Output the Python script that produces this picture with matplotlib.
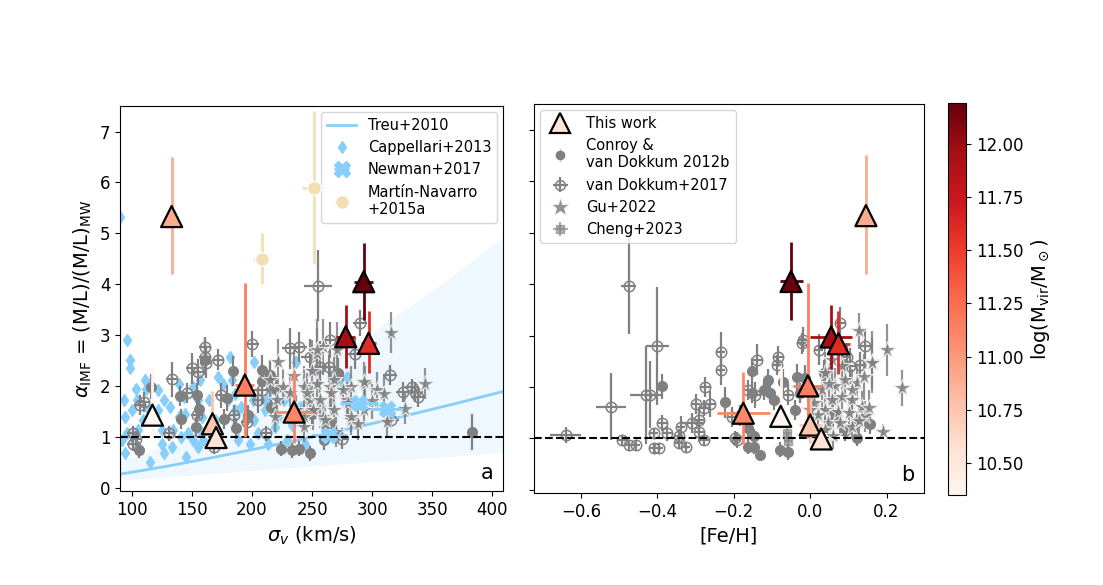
import numpy as np
import matplotlib
matplotlib.use('Agg')
import matplotlib.pyplot as plt
from matplotlib import cm, colors
from matplotlib.lines import Line2D

# ---------------- this work ----------------
tw_sigma = [133, 117, 167, 170, 194, 235, 278, 293, 297]
tw_sigma_err = [5, 5, 5, 5, 8, 15, 8, 8, 6]
tw_feh = [0.146, -0.077, 0.000, 0.029, -0.006, -0.175, 0.055, -0.050, 0.074]
tw_feh_err = [0.01, 0.03, 0.03, 0.03, 0.038, 0.07, 0.055, 0.03, 0.03]
tw_alpha = [5.33, 1.43, 1.26, 0.99, 2.02, 1.49, 2.97, 4.05, 2.84]
tw_alpha_lo = [1.13, 0.45, 0.35, 0.2, 1.02, 0.6, 0.62, 0.75, 0.59]
tw_alpha_hi = [1.17, 0.95, 0.65, 0.25, 2.0, 0.8, 0.63, 0.77, 0.63]
tw_logm = [10.9, 10.35, 10.75, 10.55, 11.15, 11.1, 11.95, 12.19, 11.6]

# ---------------- Treu+2010 relation ----------------
treu_sigma = [90, 130, 170, 210, 250, 290, 330, 370, 410]
treu_alpha = [0.27, 0.43, 0.61, 0.80, 1.00, 1.21, 1.43, 1.66, 1.90]
treu_hi = [0.52, 0.85, 1.27, 1.76, 2.30, 2.90, 3.55, 4.22, 4.95]
treu_lo = [0.15, 0.22, 0.29, 0.36, 0.43, 0.50, 0.56, 0.63, 0.70]

# ---------------- Cappellari+2013 ----------------
capp_sigma = [90, 96, 98, 98, 93, 94, 103, 104, 96, 105, 111, 112, 114, 109, 105,
              115, 125, 133, 134, 125, 127, 122, 139, 132, 143, 144, 147, 151, 145,
              155, 157, 158, 151, 159, 172, 176, 182, 183, 180, 186, 191, 188, 201,
              202, 205, 211, 215, 213, 219, 222, 227, 229, 237, 240, 237, 273, 279,
              92, 122, 139, 164, 169, 172, 158, 198, 202, 186, 155, 127, 141, 94,
              100, 244, 233, 212]
capp_alpha = [5.33, 2.90, 2.51, 2.35, 1.72, 1.40, 1.95, 1.72, 1.07, 1.13, 2.12, 1.95,
              1.53, 1.33, 0.81, 0.51, 0.87, 0.81, 1.13, 1.13, 1.72, 1.92, 2.05, 1.59,
              1.79, 1.46, 1.07, 0.94, 0.61, 1.72, 2.12, 1.40, 1.99, 0.94, 2.18, 2.05,
              2.58, 2.12, 1.72, 1.53, 1.59, 0.94, 1.72, 2.48, 1.07, 1.53, 1.92, 0.87,
              1.20, 1.40, 1.72, 0.94, 2.48, 1.59, 2.48, 2.00, 2.18, 0.94, 1.53, 1.40,
              1.72, 1.33, 1.00, 1.07, 0.87, 1.33, 1.85, 0.81, 0.68, 1.00, 0.68, 1.53,
              0.87, 1.23, 1.72]

# ---------------- Newman+2017, Martin-Navarro+2015a ----------------
newman_sigma = [264, 289, 312]
newman_sigma_err = [15, 16, 14]
newman_alpha = [1.04, 1.66, 1.56]
mn_sigma = [208, 252]
mn_sigma_err = [7, 10]
mn_alpha = [4.5, 5.9]
mn_alpha_err = [0.5, 1.5]

# ---------------- Conroy & van Dokkum 2012b ----------------
cvd_sigma = [106, 116, 140, 154, 156, 161, 184, 177, 187, 197, 208, 208, 216, 220,
             215, 224, 233, 239, 248, 272, 383, 179, 153, 141, 260, 265, 250]
cvd_alpha_a = [0.74, 1.99, 1.80, 1.82, 1.56, 2.52, 2.30, 1.36, 1.17, 1.43, 2.31, 2.10,
               1.59, 1.95, 2.22, 0.77, 0.74, 0.77, 0.68, 2.25, 1.10, 1.77, 1.20, 1.35,
               0.95, 1.25, 1.45]
cvd_err_a = [0.15, 0.25, 0.2, 0.25, 0.2, 0.3, 0.3, 0.2, 0.2, 0.2, 0.3, 0.25, 0.2, 0.25,
             0.25, 0.15, 0.15, 0.15, 0.15, 0.3, 0.35, 0.25, 0.2, 0.2, 0.2, 0.2, 0.2]
cvd_feh = [-0.388, -0.224, -0.162, -0.162, -0.148, -0.148, -0.131, -0.153, -0.122,
           -0.111, -0.105, -0.079, -0.058, -0.070, -0.035, -0.026, -0.013, 0.004,
           0.037, 0.122, 0.157, 0.122, -0.153, -0.183, -0.095, 0.06, 0.09, -0.04]
cvd_alpha_b = [2.01, 1.70, 1.20, 0.84, 1.04, 0.84, 0.68, 2.32, 1.94, 2.14, 1.88, 0.78,
               0.74, 2.10, 2.20, 1.88, 2.17, 1.88, 2.28, 1.31, 1.29, 1.00, 1.88, 1.45,
               1.75, 1.45, 1.15, 1.55]
cvd_err_b = [0.25, 0.3, 0.2, 0.15, 0.15, 0.15, 0.1, 0.25, 0.2, 0.2, 0.2, 0.15, 0.15,
             0.25, 0.25, 0.2, 0.25, 0.2, 0.25, 0.2, 0.2, 0.15, 0.2, 0.2, 0.2, 0.2,
             0.2, 0.2]

# ---------------- van Dokkum+2017 ----------------
vd_sigma = [101, 101, 103, 107, 110, 131, 133, 146, 150, 155, 154, 161, 162, 161, 172,
            168, 174, 185, 200, 196, 208, 205, 212, 232, 239, 248, 255, 257, 265, 264,
            275, 286, 290, 315, 316, 326, 333, 336, 338]
vd_sigma_err = [5, 5, 5, 5, 5, 5, 5, 5, 5, 5, 5, 5, 5, 5, 5, 5, 5, 5, 6, 5, 6, 5, 5, 7,
                7, 7, 12, 6, 7, 6, 6, 6, 6, 6, 6, 6, 6, 6, 6]
vd_alpha_a = [1.07, 0.87, 0.97, 1.63, 1.69, 1.07, 2.13, 1.86, 2.35, 2.28, 1.43, 2.77,
              2.45, 2.58, 2.52, 0.81, 1.82, 1.43, 2.83, 1.30, 1.92, 1.72, 1.07, 2.74,
              2.77, 2.58, 3.97, 2.38, 2.90, 2.38, 0.97, 2.64, 3.24, 2.22, 1.33, 1.89,
              1.99, 1.89, 1.79]
vd_err_a = [0.15, 0.15, 0.15, 0.2, 0.2, 0.15, 0.35, 0.2, 0.3, 0.25, 0.2, 0.2, 0.3,
            0.35, 0.2, 0.15, 0.25, 0.2, 0.25, 0.3, 0.3, 0.25, 0.15, 0.4, 0.3, 0.35,
            0.7, 0.5, 0.35, 0.3, 0.2, 0.3, 0.25, 0.2, 0.15, 0.2, 0.15, 0.2, 0.2]
vd_feh = [-0.640, -0.521, -0.475, -0.492, -0.475, -0.457, -0.431, -0.418, -0.400,
          -0.409, -0.409, -0.396, -0.387, -0.374, -0.344, -0.339, -0.344, -0.326,
          -0.309, -0.300, -0.291, -0.291, -0.278, -0.278, -0.274, -0.262, -0.234,
          -0.234, -0.204, -0.192, -0.138, -0.083, -0.087, -0.020, -0.022, 0.022,
          0.079, 0.144, 0.131, 0.096, 0.105, -0.162, -0.144, -0.057, -0.196]
vd_feh_err = [0.04, 0.04, 0.02, 0.012, 0.012, 0.012, 0.04, 0.012, 0.03, 0.012, 0.012,
              0.012, 0.012, 0.012, 0.012, 0.012, 0.012, 0.012, 0.03, 0.012, 0.012,
              0.012, 0.012, 0.012, 0.012, 0.012, 0.012, 0.012, 0.012, 0.012, 0.012,
              0.012, 0.012, 0.012, 0.012, 0.012, 0.012, 0.012, 0.012, 0.012, 0.012,
              0.012, 0.012, 0.012, 0.012]
vd_alpha_b = [1.07, 1.62, 3.97, 0.96, 0.87, 0.87, 1.85, 1.85, 2.80, 1.10, 0.81, 0.81,
              1.30, 1.10, 1.04, 1.23, 0.91, 0.84, 1.30, 1.67, 1.36, 1.13, 0.97, 1.59,
              2.00, 1.67, 2.67, 2.33, 1.42, 0.97, 2.53, 2.59, 2.43, 2.92, 2.85, 2.72,
              3.25, 2.79, 2.43, 2.58, 2.40, 1.94, 1.85, 1.85, 1.00]
vd_err_b = [0.15, 0.65, 0.95, 0.1, 0.1, 0.1, 0.95, 0.65, 1.15, 0.1, 0.1, 0.1, 0.15,
            0.15, 0.15, 0.2, 0.1, 0.1, 0.2, 0.2, 0.25, 0.2, 0.1, 0.15, 0.2, 0.25, 0.4,
            0.3, 0.2, 0.15, 0.3, 0.2, 0.2, 0.25, 0.2, 0.3, 0.3, 0.3, 0.25, 0.25, 0.35,
            0.2, 0.25, 0.2, 0.15]

# ---------------- Gu+2022 ----------------
gu_sigma = [222, 215, 226, 221, 219, 232, 237, 243, 248, 243, 254, 259, 265, 259, 279,
            282, 316, 344, 312, 294, 304, 282, 276, 268, 266, 280, 282, 293, 257, 254,
            251, 261, 268, 246, 243, 254, 271, 327, 293, 300, 310, 250, 235, 270, 288]
gu_alpha_a = [2.48, 2.12, 1.99, 1.73, 1.40, 1.86, 1.53, 1.99, 1.73, 1.20, 2.64, 2.77,
              1.99, 1.40, 1.73, 1.33, 3.05, 2.05, 1.30, 2.05, 1.92, 1.99, 1.92, 2.12,
              1.86, 1.66, 1.40, 1.53, 1.72, 2.05, 1.53, 1.33, 1.53, 1.86, 1.40, 2.71,
              2.71, 1.56, 2.08, 1.70, 1.85, 2.30, 2.20, 1.10, 1.25]
gu_err_a = [0.45, 0.4, 0.35, 0.3, 0.3, 0.35, 0.3, 0.4, 0.35, 0.3, 0.5, 0.55, 0.4, 0.3,
            0.35, 0.3, 0.4, 0.3, 0.3, 0.35, 0.35, 0.4, 0.35, 0.5, 0.4, 0.35, 0.3, 0.3,
            0.4, 0.6, 0.4, 0.3, 0.35, 0.4, 0.3, 0.6, 0.55, 0.3, 0.4, 0.35, 0.35, 0.6,
            0.5, 0.3, 0.3]
gu_feh = [0.127, 0.201, 0.240, 0.192, 0.162, 0.039, 0.066, 0.092, 0.122, 0.057, 0.083,
          0.109, 0.135, 0.039, 0.074, 0.101, 0.144, 0.048, 0.079, 0.109, 0.127, 0.153,
          0.031, 0.009, 0.083, 0.057, 0.039, 0.020, 0.161, 0.060, 0.000, 0.110, 0.140,
          0.050]
gu_alpha_b = [3.08, 2.72, 1.98, 1.13, 2.49, 2.27, 2.01, 2.14, 2.07, 1.75, 1.81, 1.75,
              1.62, 1.55, 1.52, 1.49, 1.43, 1.30, 1.30, 1.23, 1.33, 1.59, 1.94, 1.68,
              2.40, 2.53, 1.17, 1.45, 2.46, 1.05, 1.55, 1.95, 2.20, 2.05]
gu_err_b = [0.35, 0.5, 0.35, 0.15, 0.6, 0.4, 0.35, 0.4, 0.35, 0.3, 0.3, 0.3, 0.3, 0.3,
            0.3, 0.3, 0.3, 0.25, 0.25, 0.25, 0.3, 0.35, 0.4, 0.3, 0.4, 0.45, 0.25, 0.3,
            0.5, 0.25, 0.3, 0.4, 0.45, 0.4]

# ---------------- Cheng+2023 ----------------
cheng_sigma = [262, 270]
cheng_alpha_a = [1.20, 1.02]
cheng_feh = [-0.061, -0.058]
cheng_alpha_b = [1.10, 0.95]

cmap = cm.Reds
norm = colors.Normalize(vmin=min(tw_logm), vmax=max(tw_logm))
lsb = 'lightskyblue'

fig = plt.figure(figsize=(11.03, 5.85), dpi=100)
ax1 = fig.add_axes([0.1088, 0.1607, 0.3472, 0.658])
ax2 = fig.add_axes([0.4841, 0.1573, 0.3536, 0.665])
cax = fig.add_axes([0.8595, 0.1538, 0.0163, 0.670])

gkw = dict(color='gray', ecolor='gray', elinewidth=1.6, capsize=0)


def plot_this_work(ax, x, xerr):
    for i in range(len(x)):
        c = cmap(norm(tw_logm[i]))
        ax.errorbar(x[i], tw_alpha[i], xerr=xerr[i],
                    yerr=[[tw_alpha_lo[i]], [tw_alpha_hi[i]]],
                    fmt='none', ecolor=c, elinewidth=2, zorder=8)
    ax.scatter(x, tw_alpha, c=tw_logm, cmap=cmap, norm=norm, marker='^', s=230,
               edgecolors='k', linewidths=1.6, zorder=10)


# ---- panel a ----
ax1.fill_between(treu_sigma, treu_lo, treu_hi, color=lsb, alpha=0.14, lw=0, zorder=0)
ax1.plot(treu_sigma, treu_alpha, color=lsb, lw=2, label='Treu+2010', zorder=1)
ax1.plot(capp_sigma, capp_alpha, 'd', color=lsb, ms=6, ls='none',
         label='Cappellari+2013', zorder=1)
ax1.errorbar(cvd_sigma, cvd_alpha_a, yerr=cvd_err_a, fmt='o', ms=7, zorder=3, **gkw)
ax1.errorbar(vd_sigma, vd_alpha_a, xerr=vd_sigma_err, yerr=vd_err_a, fmt='o', ms=7.5,
             mfc='none', mew=1.1, zorder=3, **gkw)
ax1.errorbar(gu_sigma, gu_alpha_a, yerr=gu_err_a, fmt='*', ms=13, mec='whitesmoke',
             mew=0.8, alpha=0.85, zorder=4, **gkw)
ax1.errorbar(cheng_sigma, cheng_alpha_a, yerr=0.15, xerr=6, fmt='s', ms=6, alpha=0.6,
             zorder=3, **gkw)
ax1.errorbar(newman_sigma, newman_alpha, xerr=newman_sigma_err, fmt='X', ms=12,
             color=lsb, ecolor=lsb, elinewidth=2, label='Newman+2017', zorder=6)
ax1.errorbar(mn_sigma, mn_alpha, yerr=mn_alpha_err, fmt='none', ecolor='wheat',
             elinewidth=2, zorder=5)
ax1.errorbar(mn_sigma, mn_alpha, xerr=mn_sigma_err, fmt='o', ms=10, color='wheat',
             ecolor='wheat', elinewidth=2, mec='white', mew=1,
             label='Martín-Navarro\n+2015a', zorder=5)
ax1.axhline(1, color='k', ls='--', lw=1.5, zorder=7)
plot_this_work(ax1, tw_sigma, tw_sigma_err)

ax1.set_xlim(90, 409)
ax1.set_ylim(-0.06, 7.5)
ax1.set_xticks([100, 150, 200, 250, 300, 350, 400])
ax1.set_yticks(range(8))
ax1.set_xlabel(r'$\sigma_v$ (km/s)', fontsize=14)
ax1.set_ylabel(r'$\alpha_{\rm IMF}$ = (M/L)/(M/L)$_{\rm MW}$', fontsize=14)
ax1.tick_params(labelsize=12)
ax1.text(0.975, 0.02, 'a', transform=ax1.transAxes, ha='right', va='bottom', fontsize=15)
ax1.legend(loc='upper right', fontsize=10.5, borderaxespad=0.4)

# ---- panel b ----
ax2.errorbar(cvd_feh, cvd_alpha_b, yerr=cvd_err_b, fmt='o', ms=7, zorder=3, **gkw)
ax2.errorbar(vd_feh, vd_alpha_b, xerr=vd_feh_err, yerr=vd_err_b, fmt='o', ms=7.5,
             mfc='none', mew=1.1, zorder=3, **gkw)
ax2.errorbar(gu_feh, gu_alpha_b, yerr=gu_err_b, fmt='*', ms=13, mec='whitesmoke',
             mew=0.8, alpha=0.85, zorder=4, **gkw)
ax2.errorbar(cheng_feh, cheng_alpha_b, yerr=0.15, xerr=0.01, fmt='s', ms=6, alpha=0.6,
             zorder=3, **gkw)
ax2.axhline(1, color='k', ls='--', lw=1.5, zorder=7)
plot_this_work(ax2, tw_feh, tw_feh_err)

ax2.set_xlim(-0.723, 0.298)
ax2.set_ylim(-0.06, 7.5)
ax2.set_xticks([-0.6, -0.4, -0.2, 0.0, 0.2])
ax2.set_yticks(range(8))
ax2.tick_params(labelsize=12, labelleft=False)
ax2.set_xlabel('[Fe/H]', fontsize=14)
ax2.text(0.975, 0.02, 'b', transform=ax2.transAxes, ha='right', va='bottom', fontsize=15)

handles = [
    Line2D([], [], marker='^', ls='none', ms=15, mfc=cmap(norm(10.5)), mec='k', mew=1.6),
    ax2.errorbar([], [], yerr=[], fmt='o', ms=6, color='gray', ecolor='lightgray',
                 elinewidth=1, capsize=0),
    ax2.errorbar([], [], xerr=[], yerr=[], fmt='o', ms=7, mfc='none', mew=1.1, **gkw),
    Line2D([], [], marker='*', ls='none', ms=14, color='gray', mec='whitesmoke',
           mew=0.8, alpha=0.85),
    ax2.errorbar([], [], xerr=[], yerr=[], fmt='s', ms=6, alpha=0.6, **gkw),
]
labels = ['This work', 'Conroy &\nvan Dokkum 2012b', 'van Dokkum+2017', 'Gu+2022',
          'Cheng+2023']
ax2.legend(handles, labels, loc='upper left', fontsize=10.5, borderaxespad=0.4)

# ---- colorbar ----
sm = cm.ScalarMappable(norm=norm, cmap=cmap)
cb = fig.colorbar(sm, cax=cax)
cb.set_ticks([10.5, 10.75, 11.0, 11.25, 11.5, 11.75, 12.0])
cb.ax.set_yticklabels(['%.2f' % t for t in [10.5, 10.75, 11.0, 11.25, 11.5, 11.75, 12.0]])
cb.ax.tick_params(labelsize=12)
cb.set_label(r'log(M$_{\rm vir}$/M$_\odot$)', fontsize=14)

fig.savefig('out.png', dpi=100)
